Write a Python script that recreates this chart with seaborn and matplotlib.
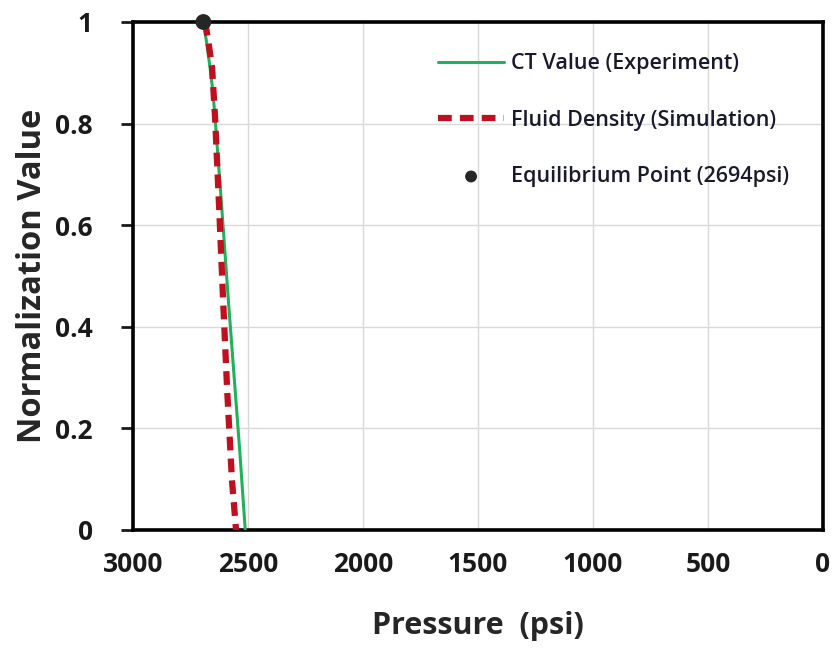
import matplotlib
matplotlib.use("Agg")
import matplotlib.pyplot as plt
import seaborn as sns
import pandas as pd

# CT-derived normalized value measured during depressurization
ct_pressure = [2694, 2680, 2665, 2652, 2643, 2615, 2585, 2560, 2535, 2512]
ct_value = [1.00, 0.96, 0.91, 0.86, 0.81, 0.64, 0.45, 0.30, 0.15, 0.00]

# Simulated fluid density, normalized
sim_pressure = [2686, 2672, 2656, 2643, 2625, 2608, 2590, 2570, 2552]
sim_value = [1.00, 0.96, 0.91, 0.81, 0.63, 0.45, 0.27, 0.10, 0.00]

# Equilibrium point
eq_pressure = [2694]
eq_value = [1.0]

x_ticks = [3000, 2500, 2000, 1500, 1000, 500, 0]
y_ticks = [0, 0.2, 0.4, 0.6, 0.8, 1.0]
y_tick_labels = ["0", "0.2", "0.4", "0.6", "0.8", "1"]

ct_df = pd.DataFrame({"Pressure": ct_pressure, "Value": ct_value})
sim_df = pd.DataFrame({"Pressure": sim_pressure, "Value": sim_value})
eq_df = pd.DataFrame({"Pressure": eq_pressure, "Value": eq_value})

sns.set_style("white")
plt.rcParams["font.family"] = ["Open Sans", "DejaVu Sans"]

fig = plt.figure(figsize=(8.37, 6.52), dpi=100)
ax = fig.add_axes([133 / 837, 1 - 530 / 652, (823 - 133) / 837, (530 - 22) / 652])

sns.lineplot(data=ct_df, x="Pressure", y="Value", ax=ax, color="#1fb25a",
             linewidth=2.2, sort=False, label="CT Value (Experiment)", zorder=3)
sns.lineplot(data=sim_df, x="Pressure", y="Value", ax=ax, color="#c0101e",
             linewidth=4.5, linestyle=(0, (2.2, 1.3)), sort=False,
             label="Fluid Density (Simulation)", zorder=4)
sns.scatterplot(data=eq_df, x="Pressure", y="Value", ax=ax, color="#262626",
                s=130, edgecolor="none", label="Equilibrium Point (2694psi)",
                zorder=5, clip_on=False)

ax.set_xlim(3000, 0)
ax.set_ylim(0, 1)
ax.set_xticks(x_ticks)
ax.set_xticklabels([str(t) for t in x_ticks])
ax.set_yticks(y_ticks)
ax.set_yticklabels(y_tick_labels)

ax.grid(True, color="#d9d9d9", linewidth=1.0)
for side in ["left", "bottom", "top", "right"]:
    ax.spines[side].set_visible(True)
    ax.spines[side].set_color("black")
    ax.spines[side].set_linewidth(2.6)

ax.tick_params(axis="x", length=0, pad=15, labelsize=19, colors="#1a1a1a")
ax.tick_params(axis="y", direction="out", length=9, width=2, left=True,
               pad=20, labelsize=19, colors="#1a1a1a")
for lbl in ax.get_xticklabels() + ax.get_yticklabels():
    lbl.set_fontweight("bold")

ax.set_xlabel("Pressure  (psi)", fontsize=22, fontweight="bold", labelpad=24)
ax.set_ylabel("Normalization Value", fontsize=23.5, fontweight="bold", labelpad=4)

leg = ax.legend(loc="upper left", bbox_to_anchor=(0.426, 0.96), frameon=False,
                prop={"size": 15.5, "weight": "semibold"}, handlelength=3.1,
                labelspacing=1.65, handletextpad=0.3, borderpad=0,
                markerscale=0.75)
for t in leg.get_texts():
    t.set_color("#1a1a2e")

fig.savefig("out.png", dpi=100)
